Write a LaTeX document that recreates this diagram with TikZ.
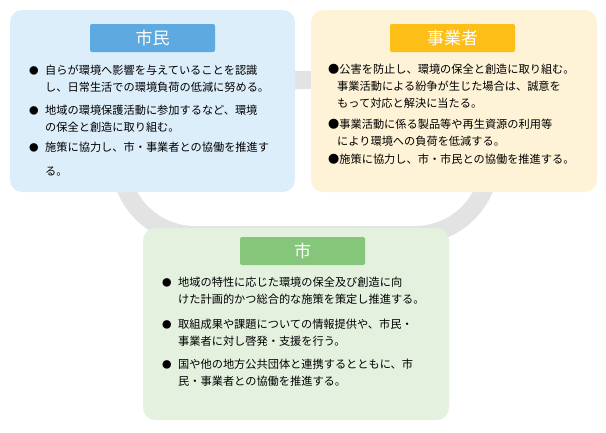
\documentclass[tikz,border=0pt]{standalone}
\usepackage{fontspec}
\setmainfont{Noto Sans CJK JP}
\usetikzlibrary{positioning}
\definecolor{ringgray}{HTML}{E3E3E3}
\definecolor{citizenbg}{HTML}{DDEEFB}
\definecolor{citizenhd}{HTML}{5DA9E0}
\definecolor{bizbg}{HTML}{FEF3D6}
\definecolor{bizhd}{HTML}{FDBE17}
\definecolor{citybg}{HTML}{E4F1DF}
\definecolor{cityhd}{HTML}{86C67A}
\begin{document}
\begin{tikzpicture}[x=1pt, y=-1pt,
    panel/.style={rectangle, rounded corners=12pt, inner sep=0pt},
    header/.style={rectangle, rounded corners=2pt, minimum width=125pt, minimum height=28pt, text=white, font=\fontsize{17}{20}\selectfont},
    item/.style={anchor=north west, align=left, inner sep=0pt, font=\fontsize{11.2}{17}\selectfont},
    dot/.style={anchor=north west, inner sep=0pt, font=\fontsize{9.5}{17}\selectfont}
]
\useasboundingbox (0,0) rectangle (606,432);

% ring behind the panels
\draw [ringgray, line width=18pt, rounded corners=75pt] (120,80) rectangle (490,235);

% panels
\node [panel, fill=citizenbg, minimum width=285pt, minimum height=182pt] (citizen) at (152.5,101) {};
\node [panel, fill=bizbg, minimum width=286pt, minimum height=182pt] (biz) at (454,101) {};
\node [panel, fill=citybg, minimum width=306pt, minimum height=192pt] (city) at (296,324) {};

% headers
\node [header, fill=citizenhd] (citizenhead) at (152.5,38) {市民};
\node [header, fill=bizhd] (bizhead) at (452.5,38) {事業者};
\node [header, fill=cityhd] (cityhead) at (302.5,251) {市};

% citizen items
\node [dot] (c1d) at (29,66) {●};
\node [item] (c1) at (45,65) {自らが環境へ影響を与えていることを認識\\し、日常生活での環境負荷の低減に努める。};
\node [dot] (c2d) at (29,106) {●};
\node [item] (c2) at (45,105) {地域の環境保護活動に参加するなど、環境\\の保全と創造に取り組む。};
\node [dot] (c3d) at (29,143) {●};
\node [item, font=\fontsize{11.2}{24}\selectfont] (c3) at (45,142) {施策に協力し、市・事業者との協働を推進す\\る。};

% business items
\node [item] (b1) at (328,64) {●公害を防止し、環境の保全と創造に取り組む。\\\hspace{9pt}事業活動による紛争が生じた場合は、誠意を\\\hspace{9pt}もって対応と解決に当たる。};
\node [item] (b2) at (328,119) {●事業活動に係る製品等や再生資源の利用等\\\hspace{9pt}により環境への負荷を低減する。};
\node [item] (b3) at (328,154) {●施策に協力し、市・市民との協働を推進する。};

% city items
\node [dot] (m1d) at (162,278) {●};
\node [item] (m1) at (178,277) {地域の特性に応じた環境の保全及び創造に向\\けた計画的かつ総合的な施策を策定し推進する。};
\node [dot] (m2d) at (162,320) {●};
\node [item] (m2) at (178,319) {取組成果や課題についての情報提供や、市民・\\事業者に対し啓発・支援を行う。};
\node [dot] (m3d) at (162,360) {●};
\node [item] (m3) at (178,359) {国や他の地方公共団体と連携するとともに、市\\民・事業者との協働を推進する。};

\end{tikzpicture}
\end{document}
